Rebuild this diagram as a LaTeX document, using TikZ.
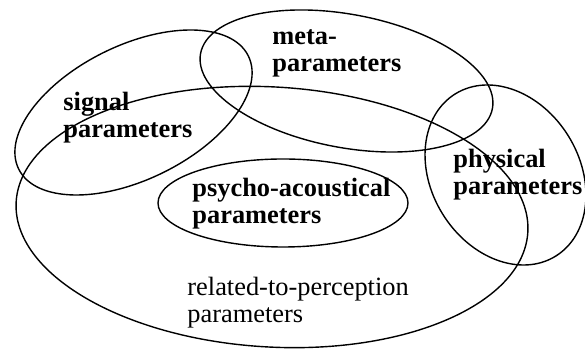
\documentclass[tikz,border=0pt]{standalone}
\usepackage{fontspec}
\setmainfont{Liberation Serif}
\usetikzlibrary{shapes.geometric}
\tikzstyle{blob}=[ellipse, draw=black, line width=0.7pt, inner sep=0pt]
\tikzstyle{label}=[inner sep=0pt, anchor=base west, align=left, font=\fontsize{13.2}{13.7}\selectfont]
\tikzstyle{boldlabel}=[style=label, font=\fontsize{13.2}{13.7}\selectfont\bfseries]

\begin{document}
\begin{tikzpicture}[x=0.5pt, y=-0.5pt]
	\useasboundingbox (0, 0) rectangle (585, 351);
	% the five sets
	\node [style=blob, minimum width=256.3pt, minimum height=130pt, rotate=-3.4] (perception) at (272, 217) {};
	\node [style=blob, minimum width=125pt, minimum height=44pt] (psycho) at (283, 203) {};
	\node [style=blob, minimum width=128pt, minimum height=67pt, rotate=26.2] (signal) at (133.5, 112.5) {};
	\node [style=blob, minimum width=148.5pt, minimum height=66.6pt, rotate=-10.7] (meta) at (346.5, 81) {};
	\node [style=blob, minimum width=95.4pt, minimum height=74pt, rotate=-58.3] (physical) at (505.5, 175) {};
	% their names (anchored at the baseline of the last line)
	\node [style=boldlabel] (signaltext) at (63, 138) {signal\\parameters};
	\node [style=boldlabel] (metatext) at (272, 72) {meta-\\parameters};
	\node [style=boldlabel] (physicaltext) at (453, 195) {physical\\parameters};
	\node [style=boldlabel] (psychotext) at (192, 224) {psycho-acoustical\\parameters};
	\node [style=label] (perceptiontext) at (187, 323) {related-to-perception\\parameters};
\end{tikzpicture}
\end{document}
